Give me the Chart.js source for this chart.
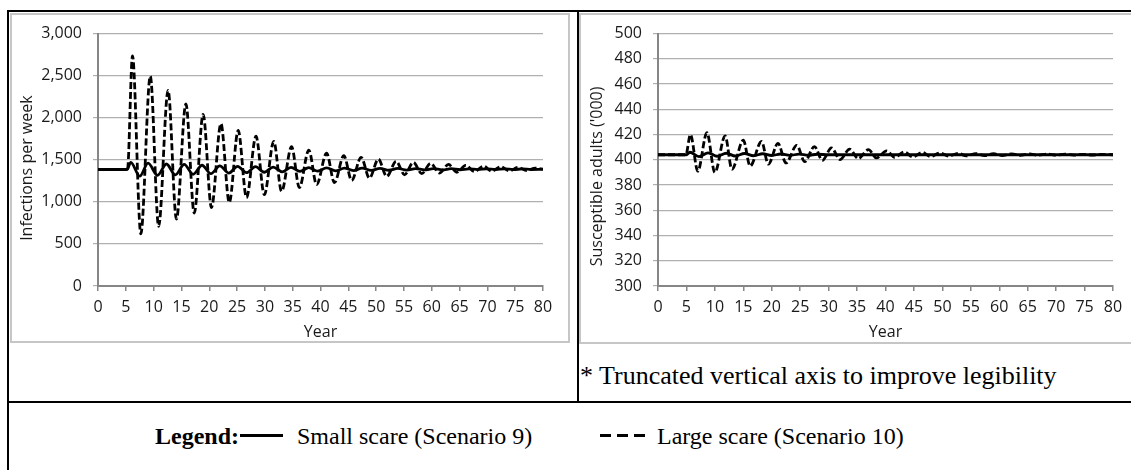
<!DOCTYPE html>
<html lang="en">
<head>
    <meta charset="UTF-8">
    <title>Small vs large scare - infections and susceptible adults</title>
    <script src="https://cdn.jsdelivr.net/npm/chart.js"></script>
    <style>
        body {
            margin: 0;
            width: 1131px;
            height: 470px;
            overflow: hidden;
            position: relative;
            background: #fff;
            font-family: 'Liberation Serif', 'Times New Roman', serif;
        }
        .rule { position: absolute; background: #000; }
        .frame {
            position: absolute;
            box-sizing: border-box;
            border: 2px solid #c6c6c6;
        }
        canvas { position: absolute; }
        .note {
            position: absolute;
            left: 580px;
            top: 361px;
            font-size: 26px;
            line-height: 30px;
            white-space: nowrap;
        }
        .leg {
            position: absolute;
            top: 422px;
            font-size: 24px;
            line-height: 28px;
            white-space: nowrap;
        }
        .swatch { position: absolute; top: 434px; height: 3px; }
    </style>
</head>
<body>
    <!-- table rules -->
    <div class="rule" style="left:7px; top:10px; width:1124px; height:2px;"></div>
    <div class="rule" style="left:7px; top:10px; width:2px; height:460px;"></div>
    <div class="rule" style="left:577px; top:10px; width:2px; height:392px;"></div>
    <div class="rule" style="left:7px; top:401px; width:1124px; height:2px;"></div>

    <canvas id="infChart" width="560" height="330" style="left:10px; top:13px; width:560px; height:330px;"></canvas>
    <div class="frame" style="left:10px; top:13px; width:560px; height:330px;"></div>

    <canvas id="susChart" width="552" height="331" style="left:579px; top:13px; width:552px; height:331px;"></canvas>
    <div class="frame" style="left:579px; top:13px; width:570px; height:331px;"></div>

    <div class="note">* Truncated vertical axis to improve legibility</div>

    <div class="leg" style="left:155px;"><b>Legend:</b></div>
    <div class="swatch" style="left:240px; width:43px; background:#000;"></div>
    <div class="leg" style="left:297px;">Small scare (Scenario 9)</div>
    <div class="swatch" style="left:600px; width:45px; background:repeating-linear-gradient(to right, #000 0 11px, transparent 11px 17px);"></div>
    <div class="leg" style="left:657px;">Large scare (Scenario 10)</div>

    <script>
        // Infections per week (left panel) at peaks and troughs
        const smallInfYears = [0, 5.2, 5.9, 7.5, 9.0, 10.7, 12.3, 13.9, 15.5, 17.1, 18.7, 20.3, 21.9, 23.5, 25.1, 26.7,
            28.3, 29.9, 31.5, 33.1, 34.7, 36.3, 37.9, 39.5, 41.1, 42.7, 44.3, 45.9, 47.5, 49.1, 50.7, 52.3, 53.9, 55.5,
            57.1, 58.7, 60.3, 61.9, 63.5, 65.1, 66.7, 68.3, 69.9, 71.5, 73.1, 74.7, 76.3, 77.9, 80];
        const smallInf = [1385, 1385, 1470, 1305, 1460, 1315, 1450, 1320, 1445, 1328, 1435, 1335, 1428, 1342, 1422, 1348,
            1418, 1352, 1414, 1357, 1410, 1362, 1406, 1366, 1404, 1369, 1402, 1372, 1400, 1374, 1398, 1376, 1397, 1378,
            1396, 1380, 1395, 1381, 1394, 1382, 1393, 1383, 1393, 1384, 1392, 1384, 1391, 1385, 1388];

        const largeInfYears = [0, 5.3, 6.2, 7.7, 9.4, 10.9, 12.6, 14.1, 15.8, 17.3, 18.9, 20.4, 22.1, 23.6, 25.2, 26.7,
            28.4, 29.9, 31.6, 33.0, 34.8, 36.2, 37.9, 39.3, 41.1, 42.5, 44.2, 45.6, 47.3, 48.8, 50.4, 51.9, 53.6, 55.1,
            56.7, 58.2, 59.8, 61.4, 63.0, 64.5, 66.1, 67.7, 69.3, 70.8, 72.4, 74.0, 75.5, 77.1, 78.6, 80];
        const largeInf = [1385, 1385, 2735, 620, 2495, 710, 2325, 795, 2165, 867, 2040, 933, 1930, 992, 1850, 1050,
            1780, 1085, 1720, 1125, 1655, 1170, 1615, 1205, 1578, 1228, 1550, 1255, 1530, 1282, 1508, 1302, 1482, 1322,
            1470, 1335, 1457, 1343, 1445, 1352, 1434, 1360, 1425, 1364, 1418, 1368, 1410, 1372, 1402, 1385];

        // Susceptible adults ('000) (right panel)
        const smallSusYears = [0, 5.0, 5.6, 7.2, 8.8, 10.4, 12.0, 13.6, 15.2, 16.8, 18.4, 20.0, 21.6, 23.2, 24.8, 26.4, 28.0, 30.0, 80];
        const smallSus = [404, 404, 406, 402.5, 405.5, 402.8, 405.2, 403, 405, 403.2, 404.8, 403.4, 404.6, 403.5, 404.5, 403.6, 404.4, 404, 404];

        const largeSusYears = [0, 4.9, 5.7, 7.0, 8.6, 10.0, 11.8, 13.0, 15.0, 16.2, 18.2, 19.4, 21.1, 22.5, 24.4, 25.8,
            27.5, 28.9, 30.5, 32.0, 33.7, 35.2, 37.0, 38.4, 40.2, 41.6, 43.3, 44.8, 46.5, 47.9, 49.6, 51.1, 52.8, 54.2,
            55.9, 57.4, 59.0, 60.5, 62.2, 63.7, 65.3, 66.8, 68.5, 70.0, 71.6, 73.1, 74.8, 76.3, 77.9, 80];
        const largeSus = [404, 404, 420, 391, 421.5, 390, 419, 392.5, 415.5, 395, 414.5, 396.5, 413, 397.5, 411.5, 398.5,
            410.5, 399.5, 409.5, 400.2, 408.5, 401, 408, 401.5, 407, 402, 406.3, 402.3, 405.8, 402.6, 405.4, 402.9, 405.1, 403.1,
            404.9, 403.3, 404.8, 403.4, 404.7, 403.5, 404.6, 403.6, 404.5, 403.7, 404.4, 403.7, 404.3, 403.8, 404.2, 404];

        const xTicks = { min: 0, max: 80, step: 5 };

        Chart.defaults.font.family = "'Open Sans', sans-serif";
        Chart.defaults.font.size = 16;
        Chart.defaults.color = '#1a1a1a';

        const toPoints = (xs, ys) => xs.map((x, i) => ({ x: x, y: ys[i] }));

        function lineSet(label, xs, ys, dashed) {
            return {
                label: label,
                data: toPoints(xs, ys),
                borderColor: '#000',
                borderWidth: 2.8,
                borderDash: dashed ? [7, 3] : [],
                pointRadius: 0,
                cubicInterpolationMode: 'monotone',
                fill: false
            };
        }

        // box: chart area inside the canvas (left, right, top, bottom)
        // shift: trailing spaces push the rotated y title a bit lower, like the original
        function makeChart(id, sets, box, yOpts, yTitle) {
            const canvas = document.getElementById(id);
            return new Chart(canvas, {
                type: 'line',
                data: { datasets: sets },
                options: {
                    responsive: false,
                    animation: false,
                    devicePixelRatio: 1,
                    layout: { padding: { left: 0, top: box.top, right: canvas.width - box.right, bottom: 0 } },
                    plugins: { legend: { display: false }, tooltip: { enabled: false } },
                    scales: {
                        x: {
                            type: 'linear',
                            min: xTicks.min,
                            max: xTicks.max,
                            ticks: { stepSize: xTicks.step, autoSkip: false, maxRotation: 0, padding: 7 },
                            grid: { drawOnChartArea: false, tickLength: 5, color: '#868686', lineWidth: 1.5 },
                            border: { color: '#868686', width: 2 },
                            title: { display: true, text: 'Year', padding: { top: 0, bottom: box.titleBottom } },
                            afterFit: (scale) => { scale.height = canvas.height - box.bottom; }
                        },
                        y: {
                            min: yOpts.min,
                            max: yOpts.max,
                            ticks: {
                                stepSize: yOpts.step,
                                padding: 11,
                                callback: (v) => v.toLocaleString('en-US')
                            },
                            grid: { color: '#b0b0b0', lineWidth: 1.2, tickLength: 5 },
                            border: { color: '#868686', width: 2 },
                            title: {
                                display: true,
                                text: yTitle + '\u00a0'.repeat(box.shift),
                                padding: { top: box.titleLeft, bottom: 0 }
                            },
                            afterFit: (scale) => { scale.width = box.left; }
                        }
                    }
                }
            });
        }

        makeChart('infChart', [
            lineSet('Small scare (Scenario 9)', smallInfYears, smallInf, false),
            lineSet('Large scare (Scenario 10)', largeInfYears, largeInf, true)
        ], { left: 88, right: 533, top: 18, bottom: 273, titleBottom: 1, titleLeft: 8, shift: 4 },
           { min: 0, max: 3000, step: 500 }, 'Infections per week');

        makeChart('susChart', [
            lineSet('Small scare (Scenario 9)', smallSusYears, smallSus, false),
            lineSet('Large scare (Scenario 10)', largeSusYears, largeSus, true)
        ], { left: 79, right: 534, top: 18, bottom: 273, titleBottom: 2, titleLeft: 9, shift: 8 },
           { min: 300, max: 500, step: 20 }, "Susceptible adults ('000)");
    </script>
</body>
</html>
